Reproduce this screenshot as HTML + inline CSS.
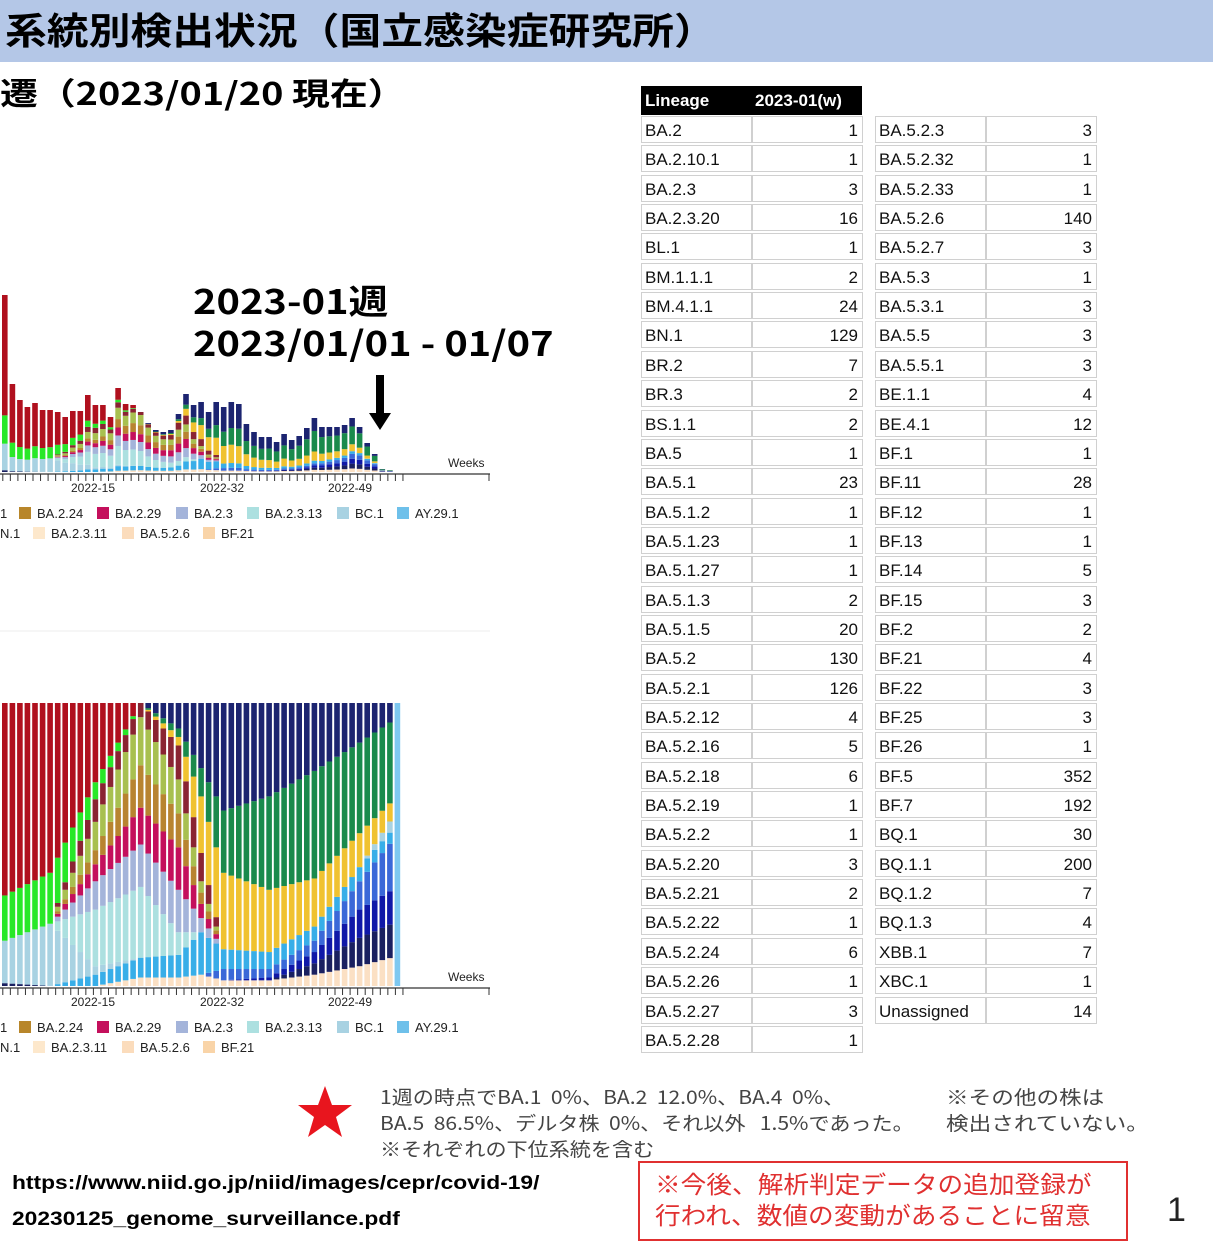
<!DOCTYPE html>
<html><head><meta charset="utf-8">
<style>
body{margin:0;width:1213px;height:1247px;position:relative;background:#fff;overflow:hidden;font-family:"Liberation Sans","Noto Sans CJK JP",sans-serif;}
.a{position:absolute;white-space:nowrap;transform-origin:0 0;}
.hdr{left:0;top:0;width:1213px;height:62px;background:#b4c7e7;}
.cell{position:absolute;height:27px;background:#fff;border:1px solid #d0d0d0;font-size:17px;line-height:27px;color:#111;box-sizing:border-box;}
.n{padding-left:3px;}
.v{text-align:right;padding-right:4px;}
</style></head><body>
<div class="a hdr"></div>
<div class="a" style="left:5px;top:4px;font-size:37px;font-weight:bold;font-family:'Noto Sans CJK JP',sans-serif;line-height:48px;transform:scaleX(1.13);">系統別検出状況（国立感染症研究所）</div>
<div class="a" style="left:0;top:70px;font-size:31px;font-weight:bold;font-family:'Noto Sans CJK JP',sans-serif;line-height:44px;transform:scaleX(1.22);">遷（2023/01/20 現在）</div>
<div class="a" style="left:193px;top:279px;font-size:34px;font-weight:bold;font-family:'Noto Sans CJK JP',sans-serif;line-height:42px;transform:scaleX(1.17);">2023-01週<br>2023/01/01 - 01/07</div>
<svg class="a" id="ch" style="left:0;top:0" width="500" height="1070"></svg>
<div id="tbl"></div>
<svg class="a" style="left:296px;top:1084px" width="58" height="56"><polygon points="29,2 36,21 56,21 40,33 46,53 29,41 12,53 18,33 2,21 22,21" fill="#e8151e"/></svg>
<div class="a" style="left:380px;top:1084px;font-size:19px;line-height:26px;color:#444;font-family:'Noto Sans CJK JP',sans-serif;transform:scaleX(1.11);">1週の時点でBA.1&nbsp; 0%、BA.2&nbsp; 12.0%、BA.4&nbsp; 0%、<br>BA.5&nbsp; 86.5%、デルタ株&nbsp; 0%、それ以外&nbsp;&nbsp; 1.5%であった。<br>※それぞれの下位系統を含む</div>
<div class="a" style="left:946px;top:1084px;font-size:19px;line-height:26px;color:#444;font-family:'Noto Sans CJK JP',sans-serif;transform:scaleX(1.19);">※その他の株は<br>検出されていない。</div>
<div class="a" style="left:12px;top:1166px;font-size:19px;font-weight:bold;line-height:36px;transform:scaleX(1.2);">https://www.niid.go.jp/niid/images/cepr/covid-19/<br>20230125_genome_surveillance.pdf</div>
<div class="a" style="left:638px;top:1161px;width:486px;height:76px;border:2px solid #e03030;box-sizing:content-box;"></div>
<div class="a" style="left:655px;top:1167px;font-size:24px;line-height:31px;color:#e03030;font-family:'Noto Sans CJK JP',sans-serif;transform:scaleX(1.07);">※今後、解析判定データの追加登録が<br>行われ、数値の変動があることに留意</div>
<div class="a" style="left:1167px;top:1190px;font-size:34px;line-height:40px;color:#222;">1</div>
<script>
const C={pe:'#fbe0c4',dn:'#1a2060',db:'#1018a8',bl:'#3a68d8',sk:'#38aee8',lb:'#a8d2e2',pc:'#ace0e0',la:'#a4b4da',mg:'#c4105c',br:'#b88430',ol:'#a8c050',ma:'#8a2432',li:'#28e828',re:'#b0101e',ye:'#f0c230',dg:'#1a8a4c',nv:'#1c2470'};
const ORD=['pe','dn','db','bl','sk','lb','pc','la','mg','br','ol','ma','li','re','ye','dg','nv'];
const K=[
[0,{dn:.01,lb:.15,li:.16,re:.68}],
[6,{lb:.22,li:.18,re:.6}],
[12,{sk:.04,lb:.03,pc:.2,la:.1,mg:.06,br:.05,ol:.1,ma:.08,li:.06,re:.28}],
[18,{pe:.03,sk:.07,pc:.25,la:.15,mg:.13,br:.15,ol:.17,ma:.05}],
[23,{pe:.03,sk:.08,pc:.08,la:.15,mg:.15,br:.12,ol:.12,ma:.12,ye:.03,dg:.03,nv:.09}],
[26,{pe:.04,sk:.15,la:.05,mg:.05,br:.04,ol:.04,ma:.1,ye:.2,dg:.1,nv:.23}],
[29,{pe:.02,bl:.04,sk:.07,ye:.27,dg:.22,nv:.38}],
[35,{pe:.02,db:.01,bl:.03,sk:.06,ye:.22,dg:.33,nv:.33}],
[41,{pe:.04,dn:.04,db:.04,bl:.04,sk:.05,ye:.17,dg:.38,nv:.24}],
[47,{pe:.07,dn:.1,db:.1,bl:.1,sk:.05,ye:.12,dg:.32,nv:.14}],
[51,{pe:.1,dn:.12,db:.12,bl:.17,sk:.04,lb:.04,ye:.065,dg:.29,nv:.07}]];
function frac(i){let a=K[0],b=K[K.length-1];for(let k=0;k<K.length-1;k++){if(i>=K[k][0]&&i<=K[k+1][0]){a=K[k];b=K[k+1];break;}}
const t=b[0]==a[0]?0:(i-a[0])/(b[0]-a[0]);const r={};let s=0;ORD.forEach(c=>{r[c]=(a[1][c]||0)*(1-t)+(b[1][c]||0)*t;s+=r[c];});ORD.forEach(c=>r[c]/=s);return r;}
const H=[177,88,72,65,69,62,62,60,55,61,61,77,67,67,55,84,68,67,60,49,42,40,42,58,78,67,70,60,70,65,70,68,48,40,35,35,30,38,32,36,44,54,45,45,45,47,54,45,29,18,3,2];
let s='';
function stack(i,h,base){const f=frac(i);let y=base;const x=2+i*7.55;ORD.forEach(c=>{const hh=f[c]*h;if(hh>0.05){s+=`<rect x="${x.toFixed(1)}" y="${(y-hh).toFixed(2)}" width="5.6" height="${hh.toFixed(2)}" fill="${C[c]}"/>`;y-=hh;}});}
for(let i=0;i<52;i++){stack(i,H[i],472);stack(i,283,986);}
s+=`<rect x="394.6" y="703" width="5.6" height="283" fill="#7ec8f0"/>`;
function axis(y,ly){s+=`<line x1="0" y1="${y}" x2="490" y2="${y}" stroke="#333" stroke-width="1.2"/>`;
for(let i=0;i<54;i++){const x=2.8+i*7.55;s+=`<line x1="${x}" y1="${y}" x2="${x}" y2="${y+7}" stroke="#333" stroke-width="1"/>`;}
s+=`<line x1="489" y1="${y}" x2="489" y2="${y+7}" stroke="#333"/>`;
[['2022-15',93],['2022-32',222],['2022-49',350]].forEach(a=>s+=`<text x="${a[1]}" y="${y+18}" font-size="12" text-anchor="middle" fill="#222" font-family="Liberation Sans">${a[0]}</text>`);
s+=`<text x="448" y="${y-7}" font-size="12" fill="#222" font-family="Liberation Sans">Weeks</text>`;
const r1=[['1',null,0],['BA.2.24','#b8862a',19],['BA.2.29','#c4105c',97],['BA.2.3','#a4b4da',176],['BA.2.3.13','#ace0e0',247],['BC.1','#a8d2e2',337],['AY.29.1','#6ec0ea',397]];
const r2=[['N.1',null,0],['BA.2.3.11','#fde8cc',33],['BA.5.2.6','#fbdcbc',122],['BF.21','#f9d4a8',203]];
[[r1,ly],[r2,ly+20]].forEach(([r,yy])=>r.forEach(([t,c,x])=>{let tx=x;if(c){s+=`<rect x="${x}" y="${yy-11}" width="12" height="12" fill="${c}"/>`;tx=x+18;}s+=`<text x="${tx}" y="${yy}" font-size="13" fill="#222" font-family="Liberation Sans">${t}</text>`;}));}
axis(474,518);axis(988,1032);
s+=`<line x1="0" y1="631" x2="490" y2="631" stroke="#eee"/>`;
s+=`<rect x="376" y="375" width="8" height="40" fill="#000"/><polygon points="369,413 391,413 380,430" fill="#000"/>`;
document.getElementById('ch').innerHTML=s;
const L=[['BA.2',1],['BA.2.10.1',1],['BA.2.3',3],['BA.2.3.20',16],['BL.1',1],['BM.1.1.1',2],['BM.4.1.1',24],['BN.1',129],['BR.2',7],['BR.3',2],['BS.1.1',2],['BA.5',1],['BA.5.1',23],['BA.5.1.2',1],['BA.5.1.23',1],['BA.5.1.27',1],['BA.5.1.3',2],['BA.5.1.5',20],['BA.5.2',130],['BA.5.2.1',126],['BA.5.2.12',4],['BA.5.2.16',5],['BA.5.2.18',6],['BA.5.2.19',1],['BA.5.2.2',1],['BA.5.2.20',3],['BA.5.2.21',2],['BA.5.2.22',1],['BA.5.2.24',6],['BA.5.2.26',1],['BA.5.2.27',3],['BA.5.2.28',1]];
const R=[['BA.5.2.3',3],['BA.5.2.32',1],['BA.5.2.33',1],['BA.5.2.6',140],['BA.5.2.7',3],['BA.5.3',1],['BA.5.3.1',3],['BA.5.5',3],['BA.5.5.1',3],['BE.1.1',4],['BE.4.1',12],['BF.1',1],['BF.11',28],['BF.12',1],['BF.13',1],['BF.14',5],['BF.15',3],['BF.2',2],['BF.21',4],['BF.22',3],['BF.25',3],['BF.26',1],['BF.5',352],['BF.7',192],['BQ.1',30],['BQ.1.1',200],['BQ.1.2',7],['BQ.1.3',4],['XBB.1',7],['XBC.1',1],['Unassigned',14]];
let t='<div class="a" style="left:641px;top:86px;width:221px;height:29px;background:#000;color:#fff;font-weight:bold;font-size:17px;line-height:29px;"><span style="position:absolute;left:4px">Lineage</span><span style="position:absolute;left:114px">2023-01(w)</span></div>';
function col(arr,x0,y0){arr.forEach((r,i)=>{const y=y0+i*29.35;t+=`<div class="cell n" style="left:${x0}px;top:${y}px;width:111px">${r[0]}</div><div class="cell v" style="left:${x0+111}px;top:${y}px;width:111px">${r[1]}</div>`;});}
col(L,641,116);col(R,875,116);
document.getElementById('tbl').innerHTML=t;
</script>
</body></html>
